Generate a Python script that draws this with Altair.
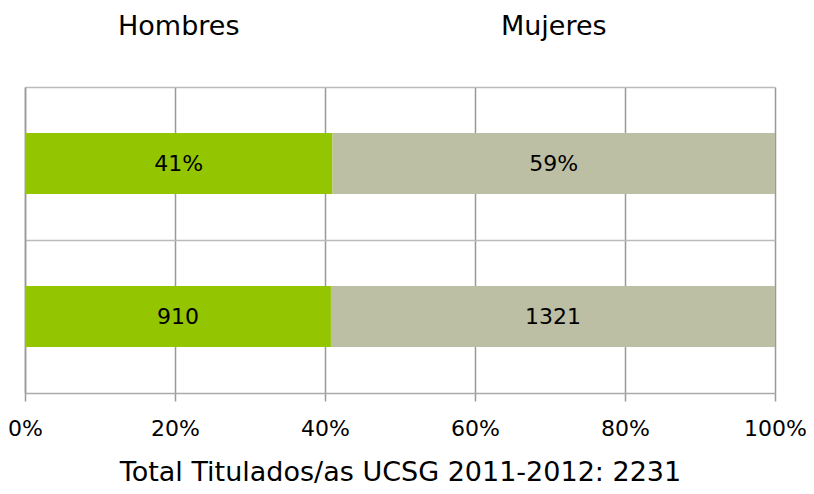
import altair as alt
import pandas as pd

# ---- data ----
categories = ["Hombres", "Mujeres"]
pct_values = [41, 59]          # top bar (percentages)
count_values = [910, 1321]     # bottom bar (counts)
row_names = ["pct", "count"]   # top to bottom
title_text = "Total Titulados/as UCSG 2011-2012: 2231"
colors = ["#93C500", "#BCBFA3"]

rows = []
for i, c in enumerate(categories):
    rows.append({"row": "pct", "sex": c, "value": pct_values[i], "label": f"{pct_values[i]}%", "order": i})
for i, c in enumerate(categories):
    rows.append({"row": "count", "sex": c, "value": count_values[i], "label": f"{count_values[i]}", "order": i})
df = pd.DataFrame(rows)

FONT = "DejaVu Sans"

base = alt.Chart(df).transform_stack(
    stack="value", groupby=["row"], as_=["x0", "x1"], offset="normalize",
    sort=[alt.SortField("order", order="ascending")]
).transform_calculate(mid="(datum.x0 + datum.x1) / 2")

xscale = alt.Scale(domain=[0, 1], nice=False, zero=True)
yscale = alt.Scale(domain=row_names, paddingInner=0, paddingOuter=0)

bars = base.mark_bar(size=61).encode(
    x=alt.X("x0:Q", scale=xscale,
            axis=alt.Axis(format=".0%", values=[0, 0.2, 0.4, 0.6, 0.8, 1.0],
                          title=title_text, grid=True, gridColor="#999999", gridWidth=1.5,
                          domainColor="#AAAAAA", domainWidth=1.5, tickColor="#999999",
                          tickWidth=1.5, tickSize=8, labelFontSize=22, labelFont=FONT,
                          labelColor="#000000", labelPadding=17, labelFlush=False,
                          labelOverlap=False, titleFont=FONT,
                          titleFontSize=27, titleFontWeight="normal", titleColor="#000000",
                          titlePadding=20)),
    x2="x1:Q",
    y=alt.Y("row:N", scale=yscale,
            axis=alt.Axis(title=None, labels=False, ticks=False, grid=True,
                          bandPosition=0, gridColor="#BBBBBB", gridWidth=1.5,
                          domainColor="#999999", domainWidth=1.5)),
    color=alt.Color("sex:N", scale=alt.Scale(domain=categories, range=colors), legend=None),
)

bar_text = base.mark_text(font=FONT, fontSize=22, color="#000000", baseline="middle").encode(
    x=alt.X("mid:Q", scale=xscale),
    y=alt.Y("row:N", scale=yscale),
    text="label:N",
)

headers = base.transform_filter(alt.datum.row == "pct").mark_text(
    font=FONT, fontSize=27, color="#000000", baseline="alphabetic"
).encode(
    x=alt.X("mid:Q", scale=xscale),
    y=alt.value(-52),
    text="sex:N",
)

chart = alt.layer(bars, bar_text, headers).properties(
    width=750, height=306,
    autosize=alt.AutoSizeParams(type="none"),
    padding={"left": 17, "top": 79, "right": 31, "bottom": 100},
).configure_view(stroke=None)

chart.save("out.html", embed_options={"renderer": "svg", "actions": False})
